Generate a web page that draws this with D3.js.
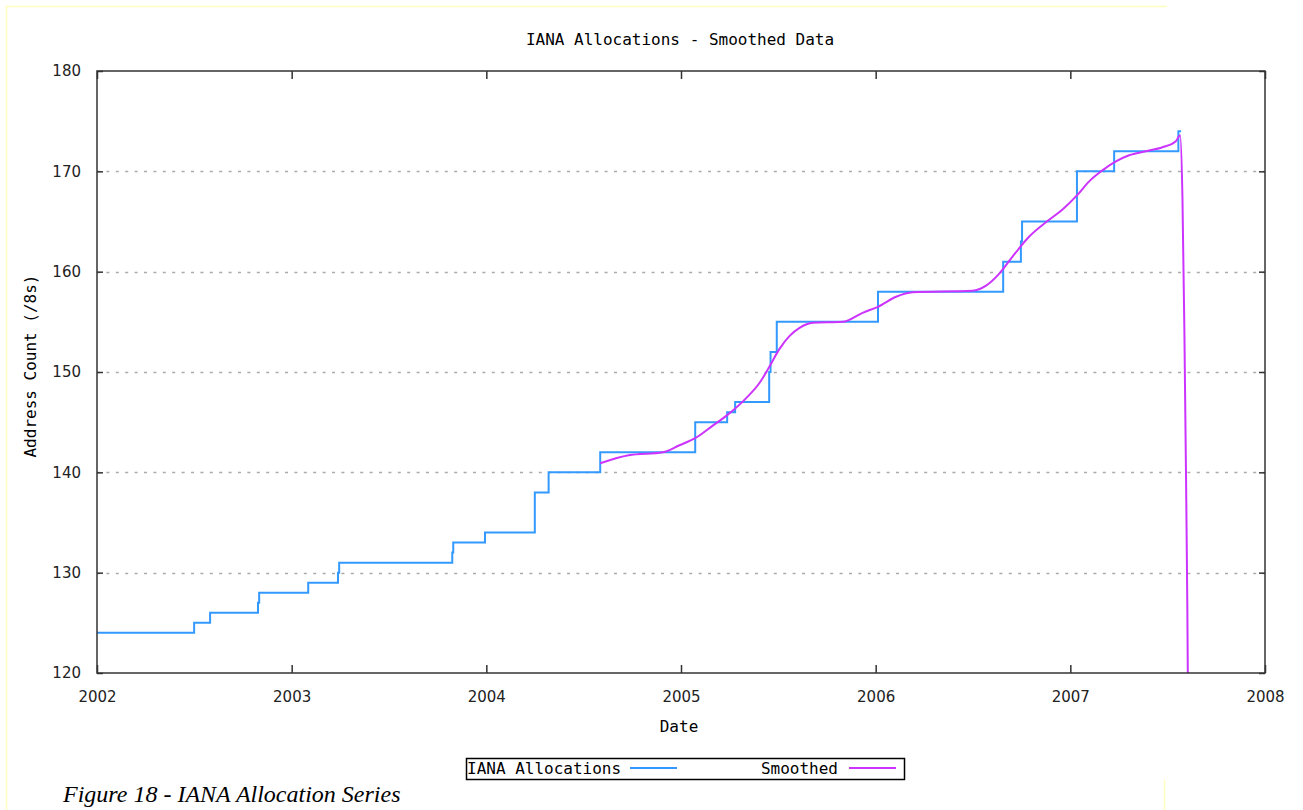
<!DOCTYPE html>
<html>
<head>
<meta charset="utf-8">
<script src="https://cdn.jsdelivr.net/npm/d3@7"></script>
<style>
    body { margin: 0; background: #fff; }
    svg { display: block; }
    .gp { font-family: "DejaVu Sans Mono", monospace; fill: #000; }
    .tick text { font-family: "DejaVu Sans", sans-serif; font-size: 15px; fill: #222; }
</style>
</head>
<body>
<svg id="chart" width="1303" height="810"></svg>
<script>
//Step series: IANA allocation count (/8s) by date (decimal year).
var allocDates = [2002.0, 2002.499, 2002.581, 2002.827, 2002.833, 2003.085, 2003.238, 2003.244,
    2003.825, 2003.830, 2003.993, 2004.249, 2004.320, 2004.585, 2005.073, 2005.237, 2005.278,
    2005.453, 2005.460, 2005.492, 2006.012, 2006.655, 2006.746, 2006.752, 2007.034, 2007.225,
    2007.555, 2007.569];
var allocCounts = [124, 125, 126, 127, 128, 129, 130, 131,
    132, 133, 134, 138, 140, 142, 145, 146, 147,
    150, 152, 155, 158, 161, 163, 165, 170, 172,
    174, 174];

//Smoothed series.
var smoothDates = [2004.585, 2004.731, 2004.907, 2004.992, 2005.073, 2005.163, 2005.237, 2005.335,
    2005.403, 2005.453, 2005.506, 2005.558, 2005.609, 2005.677, 2005.831, 2005.933, 2006.012,
    2006.105, 2006.190, 2006.498, 2006.567, 2006.635, 2006.703, 2006.789, 2006.886, 2006.960,
    2007.034, 2007.097, 2007.165, 2007.225, 2007.302, 2007.388, 2007.473, 2007.542, 2007.564,
    2007.576, 2007.586, 2007.594, 2007.601, 2007.607];
var smoothCounts = [140.9, 141.7, 142.0, 142.7, 143.4, 144.65, 145.7, 147.4,
    148.9, 150.5, 152.3, 153.6, 154.4, 154.9, 155.0, 155.9, 156.5,
    157.5, 157.95, 158.1, 158.6, 159.8, 161.5, 163.5, 165.1, 166.2,
    167.6, 169.0, 170.1, 170.9, 171.6, 172.0, 172.4, 173.0, 173.6,
    167.3, 153.9, 140.2, 126.7, 110];

var xTicks = [2002, 2003, 2004, 2005, 2006, 2007, 2008];
var yTicks = [120, 130, 140, 150, 160, 170, 180];
var gridValues = [130, 140, 150, 160, 170];

var seriesNames = ["IANA Allocations", "Smoothed"];
var seriesColors = ["#3399ff", "#cc33ff"];

var plotLeft = 97, plotRight = 1265, plotTop = 71, plotBottom = 673;

var svg = d3.select("#chart");

//Page frame lines from the source document.
svg.append("line").attr("x1", 5).attr("x2", 1167).attr("y1", 6.5).attr("y2", 6.5)
    .attr("stroke", "#ffffc0").attr("stroke-width", 1.5);
svg.append("line").attr("x1", 6.5).attr("x2", 6.5).attr("y1", 6).attr("y2", 810)
    .attr("stroke", "#ffffc0").attr("stroke-width", 1.5);
svg.append("line").attr("x1", 1164.5).attr("x2", 1164.5).attr("y1", 780).attr("y2", 810)
    .attr("stroke", "#ffffc0").attr("stroke-width", 1.5);

var x = d3.scaleLinear().domain([2002, 2008]).range([plotLeft, plotRight]);
var y = d3.scaleLinear().domain([120, 180]).range([plotBottom, plotTop]);

svg.append("defs").append("clipPath").attr("id", "plotClip")
    .append("rect")
    .attr("x", plotLeft).attr("y", plotTop)
    .attr("width", plotRight - plotLeft).attr("height", plotBottom - plotTop);

//Dotted horizontal grid.
svg.selectAll(".grid")
    .data(gridValues)
    .enter()
    .append("line")
    .attr("class", "grid")
    .attr("x1", plotLeft).attr("x2", plotRight)
    .attr("y1", function (d) { return Math.round(y(d)) + 0.5; })
    .attr("y2", function (d) { return Math.round(y(d)) + 0.5; })
    .attr("stroke", "#aaa")
    .attr("stroke-width", 1.5)
    .attr("stroke-dasharray", "3,6.4");

//Axes: gnuplot draws ticks inward on all four sides.
var xAxis = d3.axisBottom(x).tickValues(xTicks).tickFormat(d3.format("d")).tickSizeInner(-8).tickSizeOuter(0).tickPadding(18);
var xAxisTop = d3.axisTop(x).tickValues(xTicks).tickFormat("").tickSizeInner(-8).tickSizeOuter(0);
var yAxis = d3.axisLeft(y).tickValues(yTicks).tickFormat(d3.format("d")).tickSizeInner(-6).tickSizeOuter(0).tickPadding(16);
var yAxisRight = d3.axisRight(y).tickValues(yTicks).tickFormat("").tickSizeInner(-6).tickSizeOuter(0);

function styleAxis(g) {
    g.select(".domain").remove();
    g.selectAll(".tick line").attr("stroke", "#333").attr("stroke-width", 1.5);
}

svg.append("g").attr("transform", "translate(0," + plotBottom + ")").call(xAxis).call(styleAxis);
svg.append("g").attr("transform", "translate(0," + plotTop + ")").call(xAxisTop).call(styleAxis);
svg.append("g").attr("transform", "translate(" + plotLeft + ",0)").call(yAxis).call(styleAxis);
svg.append("g").attr("transform", "translate(" + plotRight + ",0)").call(yAxisRight).call(styleAxis);

//Data lines.
var allocData = allocDates.map(function (d, i) { return [d, allocCounts[i]]; });
var smoothData = smoothDates.map(function (d, i) { return [d, smoothCounts[i]]; });

var plot = svg.append("g").attr("clip-path", "url(#plotClip)");

plot.append("path")
    .datum(allocData)
    .attr("fill", "none")
    .attr("stroke", seriesColors[0])
    .attr("stroke-width", 2)
    .attr("d", d3.line()
        .x(function (d) { return x(d[0]); })
        .y(function (d) { return y(d[1]); })
        .curve(d3.curveStepAfter));

plot.append("path")
    .datum(smoothData)
    .attr("fill", "none")
    .attr("stroke", seriesColors[1])
    .attr("stroke-width", 2)
    .attr("d", d3.line()
        .x(function (d) { return x(d[0]); })
        .y(function (d) { return y(d[1]); })
        .curve(d3.curveMonotoneX));

//Plot border.
svg.append("rect")
    .attr("x", plotLeft).attr("y", plotTop)
    .attr("width", plotRight - plotLeft).attr("height", plotBottom - plotTop)
    .attr("fill", "none")
    .attr("stroke", "#333")
    .attr("stroke-width", 1.5);

//Titles.
svg.append("text").attr("class", "gp")
    .attr("x", 680).attr("y", 45)
    .attr("text-anchor", "middle")
    .style("font-size", "16px")
    .text("IANA Allocations - Smoothed Data");

svg.append("text").attr("class", "gp")
    .attr("x", 679).attr("y", 732)
    .attr("text-anchor", "middle")
    .style("font-size", "16px")
    .text("Date");

svg.append("text").attr("class", "gp")
    .attr("transform", "translate(36,366) rotate(-90)")
    .attr("text-anchor", "middle")
    .style("font-size", "16px")
    .text("Address Count (/8s)");

//Legend box.
var legend = svg.append("g");
legend.append("rect")
    .attr("x", 466.5).attr("y", 758.5)
    .attr("width", 438).attr("height", 21)
    .attr("fill", "#fff").attr("stroke", "#000").attr("stroke-width", 1.5);

var legendItems = [
    { name: seriesNames[0], color: seriesColors[0], textX: 467, anchor: "start", lineX: 630 },
    { name: seriesNames[1], color: seriesColors[1], textX: 838, anchor: "end", lineX: 849 }
];
legendItems.forEach(function (item) {
    legend.append("text").attr("class", "gp")
        .attr("x", item.textX).attr("y", 774)
        .attr("text-anchor", item.anchor)
        .style("font-size", "16px")
        .text(item.name);
    legend.append("line")
        .attr("x1", item.lineX).attr("x2", item.lineX + 47)
        .attr("y1", 768).attr("y2", 768)
        .attr("stroke", item.color).attr("stroke-width", 2);
});

//Figure caption.
svg.append("text")
    .attr("x", 63).attr("y", 802)
    .style("font-family", "'Liberation Serif', 'Times New Roman', serif")
    .style("font-style", "italic")
    .style("font-size", "24px")
    .text("Figure 18 - IANA Allocation Series");
</script>
</body>
</html>
